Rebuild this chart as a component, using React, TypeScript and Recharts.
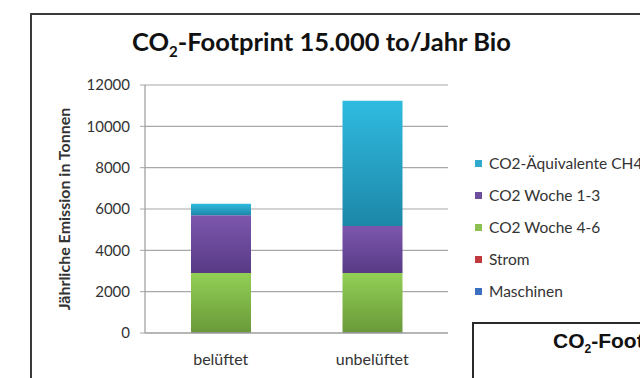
import { BarChart, Bar, XAxis, YAxis, CartesianGrid } from "recharts";

const categories = ["belüftet", "unbelüftet"];
const maschinen = [20, 20];
const strom = [20, 20];
const woche46 = [2860, 2860];
const woche13 = [2800, 2280];
const ch4 = [560, 6060];
const yTicks = [0, 2000, 4000, 6000, 8000, 10000, 12000];

const series = [
  { key: "ch4", name: "CO2-Äquivalente CH4", color: "#2fa9cc", top: "#2fbbe0", bottom: "#1d87a8" },
  { key: "woche13", name: "CO2 Woche 1-3", color: "#6e4f9e", top: "#7d57ad", bottom: "#573a86" },
  { key: "woche46", name: "CO2 Woche 4-6", color: "#8cc152", top: "#92cf55", bottom: "#6a9a3a" },
  { key: "strom", name: "Strom", color: "#c0393d", top: "#cc4446", bottom: "#a52f33" },
  { key: "maschinen", name: "Maschinen", color: "#3b6fc2", top: "#4a80d0", bottom: "#2f5ea8" },
];

const data = categories.map((c, i) => ({
  name: c,
  maschinen: maschinen[i],
  strom: strom[i],
  woche46: woche46[i],
  woche13: woche13[i],
  ch4: ch4[i],
}));

const stackOrder = ["maschinen", "strom", "woche46", "woche13", "ch4"];

export default function App() {
  return (
    <div
      style={{
        position: "fixed",
        left: 0,
        top: 0,
        width: 640,
        height: 378,
        overflow: "hidden",
        background: "#fff",
        fontFamily: "Lato, sans-serif",
      }}
    >
      {/* outer frame */}
      <div
        style={{
          position: "absolute",
          left: 30,
          top: 13,
          width: 700,
          height: 500,
          border: "2px solid #3a3a3a",
        }}
      />
      <div
        style={{
          position: "absolute",
          left: 132,
          top: 26,
          whiteSpace: "nowrap",
          fontWeight: 700,
          fontSize: 25.5,
          color: "#111",
        }}
      >
        CO<sub style={{ fontSize: 15 }}>2</sub>-Footprint 15.000 to/Jahr Bio
      </div>
      <div
        style={{
          position: "absolute",
          left: 63,
          top: 209,
          transform: "translate(-50%, -50%) rotate(-90deg)",
          whiteSpace: "nowrap",
          fontWeight: 700,
          fontSize: 16,
          color: "#333",
        }}
      >
        Jährliche Emission in Tonnen
      </div>
      <div style={{ position: "absolute", left: 0, top: 0 }}>
        <BarChart
          width={640}
          height={378}
          data={data}
          margin={{ top: 85, right: 192, bottom: 0, left: 0 }}
          barSize={60}
        >
          <defs>
            {series.map((s) => (
              <linearGradient key={s.key} id={`g-${s.key}`} x1="0" y1="0" x2="0" y2="1">
                <stop offset="0%" stopColor={s.top} />
                <stop offset="100%" stopColor={s.bottom} />
              </linearGradient>
            ))}
          </defs>
          <CartesianGrid vertical={false} stroke="#a8a8a8" strokeWidth={1.2} />
          <XAxis
            dataKey="name"
            height={45}
            tickLine={false}
            axisLine={{ stroke: "#9a9a9a", strokeWidth: 1.2 }}
            tickMargin={15}
            tick={{ fill: "#333", fontSize: 16, fontFamily: "Lato, sans-serif" }}
          />
          <YAxis
            width={145}
            domain={[0, 12000]}
            ticks={yTicks}
            interval={0}
            tickSize={5}
            tickMargin={10}
            tickLine={{ stroke: "#a8a8a8" }}
            axisLine={{ stroke: "#9a9a9a", strokeWidth: 1.2 }}
            tick={{ fill: "#333", fontSize: 15, fontFamily: "Lato, sans-serif" }}
          />
          {stackOrder.map((k) => {
            const s = series.find((x) => x.key === k)!;
            return (
              <Bar
                key={k}
                dataKey={k}
                name={s.name}
                stackId="a"
                fill={`url(#g-${k})`}
                isAnimationActive={false}
              />
            );
          })}
        </BarChart>
      </div>
      {/* legend */}
      <div style={{ position: "absolute", left: 475, top: 147 }}>
        {series.map((s) => (
          <div
            key={s.key}
            style={{
              display: "flex",
              alignItems: "center",
              height: 32,
              whiteSpace: "nowrap",
              fontSize: 15.5,
              color: "#333",
            }}
          >
            <span
              style={{
                display: "inline-block",
                width: 7,
                height: 7,
                background: s.color,
                marginRight: 7,
              }}
            />
            {s.name}
          </div>
        ))}
      </div>
      {/* second chart box, partly visible */}
      <div
        style={{
          position: "absolute",
          left: 472,
          top: 322,
          width: 400,
          height: 200,
          border: "2px solid #2a2a2a",
          background: "#fff",
        }}
      >
        <div
          style={{
            position: "absolute",
            left: 79,
            top: 5,
            whiteSpace: "nowrap",
            fontFamily: "'Liberation Sans', Arial, sans-serif",
            fontWeight: 700,
            fontSize: 21,
            color: "#111",
          }}
        >
          CO<sub style={{ fontSize: 12 }}>2</sub>-Footprint 15.000 to/Jahr
        </div>
      </div>
    </div>
  );
}
